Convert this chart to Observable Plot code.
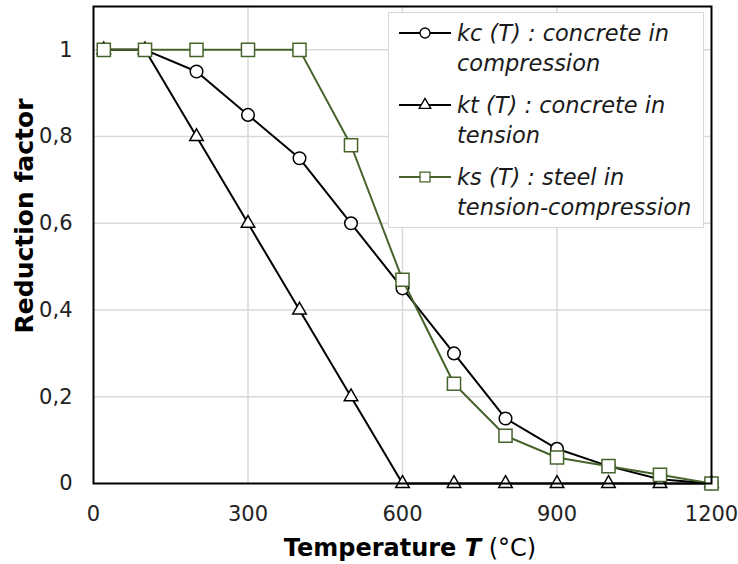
<!DOCTYPE html>
<html><head><meta charset="utf-8">
<script src="https://cdn.jsdelivr.net/npm/d3@7"></script>
<script src="https://cdn.jsdelivr.net/npm/@observablehq/plot@0.6"></script>
<style>
body{margin:0;background:#fff;}
#wrap{position:relative;width:738px;height:564px;font-family:"DejaVu Sans",sans-serif;}
#legend{position:absolute;left:388px;top:12px;width:316px;height:216px;box-sizing:border-box;background:#fff;border:1px solid #d9d9d9;font-style:italic;font-size:22.5px;color:#1a1a1a;}
.item{position:absolute;left:10px;display:flex;}
.item svg{flex:none;margin-top:7px;}
.item span{margin-left:6px;line-height:30px;white-space:nowrap;}
</style></head>
<body><div id="wrap"></div>
<script>
const temps = [20,100,200,300,400,500,600,700,800,900,1000,1100,1200];
const kc = [1,1,0.95,0.85,0.75,0.6,0.45,0.3,0.15,0.08,0.04,0.01,0];
const kt = [1,1,0.8,0.6,0.4,0.2,0,0,0,0,0,0,0];
const ks = [1,1,1,1,1,0.78,0.47,0.23,0.11,0.06,0.04,0.02,0];
const xTicks = [0,300,600,900,1200];
const yTicks = [0,0.2,0.4,0.6,0.8,1];
const yTickLabels = ["0","0,2","0,4","0,6","0,8","1"];
const seriesNames = ["kc (T) : concrete in compression","kt (T) : concrete in tension","ks (T) : steel in tension-compression"];
const green = "#46632b";

const mk = v => temps.map((t,i)=>({T:t,k:v[i]}));
const dkc = mk(kc), dkt = mk(kt), dks = mk(ks);

const plot = Plot.plot({
  width:738, height:564,
  marginLeft:93, marginRight:27, marginTop:6, marginBottom:81,
  style:{fontFamily:"DejaVu Sans, sans-serif", background:"#fff"},
  x:{domain:[0,1200]},
  y:{domain:[0,1.1]},
  marks:[
    Plot.ruleX(xTicks.slice(1,-1),{stroke:"#d9d9d9",strokeWidth:1.5}),
    Plot.ruleY(yTicks.slice(1),{stroke:"#d9d9d9",strokeWidth:1.5}),
    Plot.axisX(xTicks,{tickSize:0,tickPadding:23,fontSize:21,fill:"#222",label:null,tickFormat:d=>String(d)}),
    Plot.axisY(yTicks,{tickSize:0,tickPadding:21,fontSize:21,fill:"#222",label:null,tickFormat:(d,i)=>yTickLabels[i]}),
    Plot.line(dkc,{x:"T",y:"k",stroke:"#000",strokeWidth:2}),
    Plot.dot(dkc,{x:"T",y:"k",symbol:"circle",r:6.3,fill:"#fff",stroke:"#000",strokeWidth:1.5}),
    Plot.line(dkt,{x:"T",y:"k",stroke:"#000",strokeWidth:2}),
    Plot.dot(dkt,{x:"T",y:"k",symbol:"triangle",r:5,fill:"#fff",stroke:"#000",strokeWidth:1.5}),
    Plot.line(dks,{x:"T",y:"k",stroke:green,strokeWidth:2}),
    Plot.dot(dks,{x:"T",y:"k",symbol:"square",r:7.4,fill:"#fff",stroke:green,strokeWidth:1.5}),
    Plot.frame({stroke:"#000",strokeWidth:2})
  ]
});
const wrap = document.getElementById("wrap");
wrap.appendChild(plot);

const svg = d3.select(plot);
svg.append("text").attr("transform","translate(33,216) rotate(-90)").attr("text-anchor","middle")
  .attr("font-size",25).attr("font-weight","bold").attr("fill","#000").text("Reduction factor");
const xt = svg.append("text").attr("x",410).attr("y",556).attr("text-anchor","middle")
  .attr("font-size",24).attr("fill","#000");
xt.append("tspan").attr("font-weight","bold").text("Temperature ");
xt.append("tspan").attr("font-weight","bold").attr("font-style","italic").text("T");
xt.append("tspan").text(" (°C)");

// legend
const leg = document.createElement("div"); leg.id="legend"; wrap.appendChild(leg);
const syms = ["circle","triangle","square"];
const cols = ["#000","#000",green];
const lines = [["kc (T) : concrete in","compression"],["kt (T) : concrete in","tension"],["ks (T) : steel in","tension-compression"]];
seriesNames.forEach((n,i)=>{
  const it = document.createElement("div"); it.className="item"; it.style.top=(5+i*72)+"px";
  const sw = d3.create("svg").attr("width",52).attr("height",16);
  sw.append("line").attr("x1",0).attr("x2",52).attr("y1",8).attr("y2",8).attr("stroke",cols[i]).attr("stroke-width",2);
  const sym = {circle:d3.symbolCircle,triangle:d3.symbolTriangle,square:d3.symbolSquare}[syms[i]];
  const size = {circle:Math.PI*5*5,triangle:Math.PI*4.3*4.3,square:Math.PI*5.6*5.6}[syms[i]];
  sw.append("path").attr("d",d3.symbol(sym,size)()).attr("transform","translate(26,8)").attr("fill","#fff").attr("stroke",cols[i]).attr("stroke-width",1.3);
  it.appendChild(sw.node());
  const sp = document.createElement("span"); sp.title=n; sp.innerHTML = lines[i][0]+"<br>"+lines[i][1];
  it.appendChild(sp); leg.appendChild(it);
});
</script></body></html>
